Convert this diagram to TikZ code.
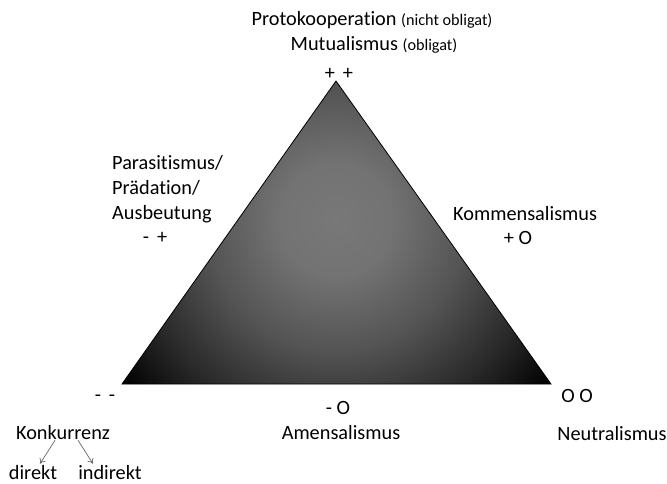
\documentclass[tikz,border=0pt]{standalone}
\usepackage{fontspec}
\setmainfont{Carlito}[Ligatures=NoCommon]
\usetikzlibrary{arrows.meta}

\newcommand{\klein}{\fontsize{16.2}{19}\selectfont}
\definecolor{tri0}{gray}{0.47}
\definecolor{tri1}{gray}{0.45}
\definecolor{tri2}{gray}{0.33}
\definecolor{tri3}{gray}{0.16}
\definecolor{tri4}{gray}{0.0}
\pgfdeclareradialshading{trishade}{\pgfpoint{0bp}{0bp}}{color(0bp)=(tri0); color(5bp)=(tri1); color(11.6bp)=(tri2); color(18.4bp)=(tri3); color(24bp)=(tri4); color(50bp)=(tri4)}
\tikzset{
  lab/.style={inner sep=0pt, font=\fontsize{20.3}{24}\selectfont},
  konkarrow/.style={draw=black!60, line width=0.7pt, -{To[length=5pt,width=7pt]}}
}

\begin{document}
\begin{tikzpicture}[x=1pt, y=-1pt]
\useasboundingbox (0,0) rectangle (667,483);
% triangle corners
\coordinate (top) at (336,81);
\coordinate (bl) at (122,384);
\coordinate (br) at (551,384);
\begin{scope}
  \clip (top) -- (bl) -- (br) -- cycle;
  \shade[shading=trishade] (336,220) circle[radius=280pt];
\end{scope}
\draw[line width=0.8pt] (top) -- (bl) -- (br) -- cycle;

% top corner
\node[lab, anchor=base] (proto) at (372,25) {Protokooperation {\klein (nicht obligat)}};
\node[lab, anchor=base] (mutu) at (374,50) {Mutualismus {\klein (obligat)}};
\node[lab, anchor=base] (pp) at (339,79) {+ \,+};

% left side
\node[lab, anchor=base west] (para) at (112,169) {Parasitismus/};
\node[lab, anchor=base west] (praed) at (112,194) {Prädation/};
\node[lab, anchor=base west] (ausb) at (112,219) {Ausbeutung};
\node[lab, anchor=base] (mp) at (155,243) {- \,+};

% right side
\node[lab, anchor=base west] (komm) at (453,220) {Kommensalismus};
\node[lab, anchor=base] (po) at (518,244) {+ O};

% bottom
\node[lab, anchor=base] (mm) at (105,401) {- \,-};
\node[lab, anchor=base] (mo) at (338,414) {- O};
\node[lab, anchor=base] (amen) at (341,439) {Amensalismus};
\node[lab, anchor=base] (oo) at (577,402) {O O};
\node[lab, anchor=base] (neut) at (612,440) {Neutralismus};

% Konkurrenz
\node[lab, anchor=base] (konk) at (63,439) {Konkurrenz};
\node[lab, anchor=base] (dir) at (33,479) {direkt};
\node[lab, anchor=base] (indir) at (110,479) {indirekt};
\draw[konkarrow] ([xshift=-8pt, yshift=-1pt]konk.south) -- ([xshift=7pt, yshift=1pt]dir.north);
\draw[konkarrow] ([xshift=15pt, yshift=-1pt]konk.south) -- ([xshift=-17pt, yshift=1pt]indir.north);
\end{tikzpicture}
\end{document}
